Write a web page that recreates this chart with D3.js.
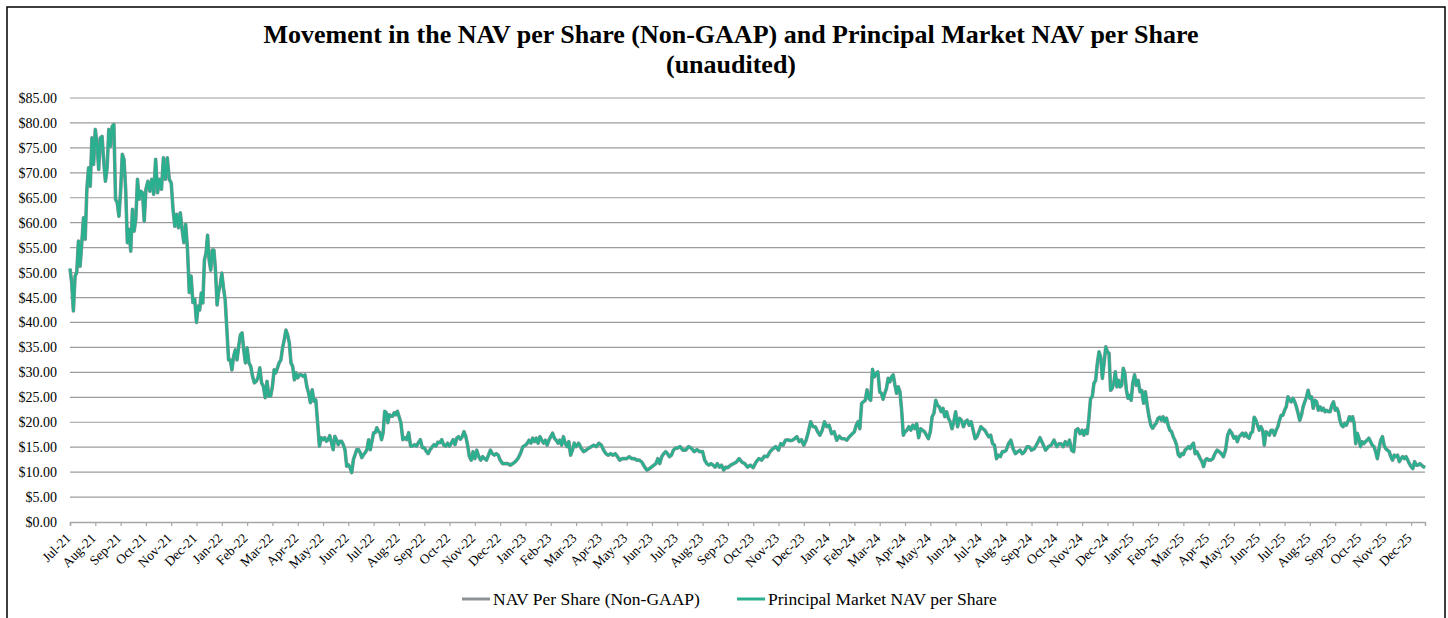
<!DOCTYPE html>
<html>
<head>
<meta charset="utf-8">
<script src="https://cdn.jsdelivr.net/npm/d3@7"></script>
<style>
  body { margin: 0; background: #fff; }
  svg text { font-family: "Liberation Serif", "Times New Roman", serif; fill: #000; }
</style>
</head>
<body>
<svg id="chart" width="1448" height="618"></svg>
<script>
// month labels on the x axis
const months = [
  "Jul-21","Aug-21","Sep-21","Oct-21","Nov-21","Dec-21",
  "Jan-22","Feb-22","Mar-22","Apr-22","May-22","Jun-22","Jul-22","Aug-22","Sep-22","Oct-22","Nov-22","Dec-22",
  "Jan-23","Feb-23","Mar-23","Apr-23","May-23","Jun-23","Jul-23","Aug-23","Sep-23","Oct-23","Nov-23","Dec-23",
  "Jan-24","Feb-24","Mar-24","Apr-24","May-24","Jun-24","Jul-24","Aug-24","Sep-24","Oct-24","Nov-24","Dec-24",
  "Jan-25","Feb-25","Mar-25","Apr-25","May-25","Jun-25","Jul-25","Aug-25","Sep-25","Oct-25","Nov-25","Dec-25"
];

const yTicks = [0, 5, 10, 15, 20, 25, 30, 35, 40, 45, 50, 55, 60, 65, 70, 75, 80, 85];

// the series stops in mid December 2025
const lastMonthCovered = 0.55;

// Principal Market NAV per share, readings spread through each month
const principalNav = [
  [50.8, 48, 42.3, 49.3, 50, 56.3, 51.3, 56, 61, 56.7, 66.7, 71, 67.3, 77, 71.7],
  [78.7, 76, 70.7, 77, 77.3, 72.3, 68.3, 71, 78.7, 75.3, 79.3, 79.7, 64.7, 64, 61.3],
  [66.3, 73.7, 72.7, 66.7, 56, 58.7, 54.3, 62.7, 58.3, 60.7, 68.7, 64.7, 66.3, 66, 60.3],
  [66.7, 68.3, 66.3, 68.7, 65.7, 72.7, 66, 68.7, 66.7, 73, 68.7, 73, 68.7],
  [68, 62.7, 59.3, 61.7, 59, 62, 58.7, 56, 59.7, 54.7, 46, 49.3, 44, 44.7],
  [40, 43.3, 42.5, 45.9, 43.9, 52.5, 53.9, 57.5, 52.5, 50.5, 54.5, 54.5, 50.5, 43.5, 46.2, 47.5],
  [49.9, 46.9, 44.5, 38.5, 32.5, 32.5, 30.5, 33.2, 34.5, 32.5, 35.2, 37.5, 37.9, 34.5, 31.9],
  [34.9, 31.9, 31.2, 29.2, 27.9, 28.2, 28.9, 30.9, 27.9, 27.2, 24.9, 28.2, 25.2, 25.2],
  [27.2, 30.5, 29.9, 30.9, 31.9, 32.5, 34.9, 36.5, 38.5, 37.5, 35.9, 31.9, 31.2, 28.5, 29.9],
  [28.9, 29.5, 29.5, 29.2, 29.5, 27.2, 25.9, 23.9, 26.5, 24.2, 24.5, 19.9, 15.2, 16.9],
  [16.5, 16.9, 16.2, 16.5, 17.3, 15.9, 14.5, 17.2, 16.5, 15.5, 16.2, 16.2, 15.5, 14.5, 11.2],
  [11.5, 10.9, 9.9, 12.5, 13.5, 14.5, 14.5, 13.9, 12.9, 13.5, 13.9, 14.5, 16.5, 14.5, 16.2],
  [17.9, 17.9, 18.9, 18.2, 17.9, 16.5, 17.9, 22.2, 21.9, 19.9, 21.5, 21.2, 21.2, 21.9, 21.5, 22.2],
  [21.2, 19.9, 16.5, 16.9, 16.5, 17.9, 15.2, 15.2, 15.5, 15.2, 15.9, 16.5, 14.9],
  [14.9, 14.2, 13.7, 14.5, 15.0, 15.5, 15.2, 16.0, 15.9, 16.5, 15.4, 15.2, 15.8],
  [15.2, 15.8, 16.5, 15.5, 16.8, 17.1, 16.6, 17.1, 18.1, 17.1, 15.4, 13.1, 12.4, 14.1],
  [12.7, 14.4, 13.1, 12.4, 13.1, 12.7, 12.4, 13.4, 14.4, 13.7, 13.4, 13.7, 13.4],
  [12.4, 11.7, 11.7, 11.7, 11.4, 11.7, 12.1, 12.7, 13.7, 15.1],
  [15.4, 15.8, 16.4, 15.8, 16.8, 16.1, 16.8, 15.8, 17.1, 16.4, 15.8, 16.4, 15.4, 16.4],
  [17.1, 17.8, 16.8, 16.4, 15.8, 16.4, 15.4, 17.1, 15.8, 15.1, 16.1, 13.4, 14.4, 15.8],
  [15.1, 15.8, 14.8, 14.1, 14.4, 14.8, 15.1, 15.4, 15.1, 15.8],
  [15.4, 14.4, 13.7, 13.4, 13.7, 13.4, 13.7, 13.1, 12.4, 12.7, 12.7],
  [12.7, 13.1, 12.7, 12.7, 12.4, 12.4, 12.0, 11.1, 10.4, 10.7],
  [11.1, 11.4, 11.7, 12.7, 11.7, 13.1, 13.7, 14.1, 13.7, 13.1, 13.4, 14.4, 14.8],
  [14.8, 15.1, 14.4, 14.4, 15.1, 14.8, 14.1, 14.5, 14.1],
  [14.1, 12.4, 11.7, 11.4, 11.7, 11.4, 11.0, 11.7, 11.0, 11.4, 10.4, 11.0],
  [10.9, 11.4, 11.7, 12.0, 12.7, 12.0, 11.7, 11.0, 11.4],
  [10.9, 12.0, 12.7, 12.4, 13.2, 13.1, 14.1, 14.7, 15.1],
  [14.4, 15.7, 15.4, 16.4, 16.5, 16.3, 16.4, 16.7, 17.1, 16.1, 16.5],
  [15.4, 16.4, 18.1, 20.1, 19.1, 19.1, 18.1, 17.4, 18.4, 20.1, 19.1],
  [19.4, 17.7, 18.1, 16.4, 17.2, 16.7, 16.7, 16.4, 17.1, 17.6],
  [18.1, 19.4, 20.1, 18.7, 23.8, 24.1, 24.4, 26.5, 24.8, 24.4, 30.6, 29.1, 29.8, 30.1],
  [26.1, 25.8, 24.6, 25.8, 26.8, 28.8, 28.1, 29.1, 29.5, 27.5, 25.8, 27.1, 26.1, 22.4, 17.4],
  [18.1, 18.4, 19.1, 18.4, 19.4, 18.7, 19.7, 16.9, 18.7, 18.4, 18.1, 17.4, 16.7],
  [18.1, 21.1, 21.8, 24.4, 23.4, 23.1, 22.1, 22.8, 21.1, 22.1, 20.8, 20.1, 18.7, 20.1],
  [22.1, 19.1, 20.8, 20.4, 19.1, 20.1, 20.4, 19.4, 20.1, 18.4, 16.7, 17.1, 18.1],
  [19.1, 18.7, 18.4, 17.7, 17.1, 17.4, 15.7, 15.4, 12.7, 13.4, 13.1, 14.1, 14.1],
  [14.4, 15.7, 16.4, 14.7, 13.7, 14.1, 14.4, 13.7, 14.1, 15.1, 15.1],
  [14.4, 14.7, 15.7, 16.9, 15.7, 14.4, 15.1, 15.4, 16.4],
  [15.1, 15.7, 15.7, 15.1, 16.1, 15.4, 16.4, 14.4, 14.1, 18.4, 18.7, 17.7],
  [18.4, 17.4, 18.4, 17.7, 20.8, 24.8, 25.1, 27.8, 28.4, 31.8, 34.1, 33.1, 28.8, 31.8, 35.1],
  [34.1, 33.8, 26.4, 26.8, 27.8, 30.1, 27.1, 28.4, 27.1, 27.4, 30.8, 29.8, 26.4, 24.8, 25.4, 24.4],
  [27.8, 29.5, 27.4, 28.4, 26.1, 26.4, 23.8, 26.1, 23.4, 21.1, 19.4, 18.8, 19.4, 19.8],
  [20.8, 21.0, 20.4, 21.1, 20.1, 20.8, 19.4, 18.4, 18.1, 17.1, 16.4, 15.4, 13.5, 13.1, 13.7],
  [13.5, 14.4, 14.7, 15.1, 14.7, 15.4, 15.8, 13.7, 14.1, 13.4, 12.7, 12.1, 11.1, 12.4, 12.7],
  [12.4, 12.4, 12.7, 13.7, 14.4, 14.1, 13.7, 13.1, 14.4, 17.4, 18.4, 17.8],
  [16.8, 17.1, 16.1, 17.1, 17.4, 17.8, 17.2, 17.8, 17.1, 16.8, 17.8, 18.1, 21.0, 20.4, 19.4],
  [18.4, 19.1, 18.4, 15.4, 18.1, 17.8, 17.4, 18.4, 18.4, 17.4, 18.4, 19.1, 20.4, 21.4, 21.4],
  [22.4, 23.1, 25.1, 24.4, 24.1, 24.8, 24.1, 23.1, 21.8, 20.4, 21.4, 23.1, 24.1, 25.1, 26.4],
  [24.8, 25.1, 22.8, 24.4, 24.1, 22.4, 23.1, 22.4, 22.8, 22.1, 22.4, 22.1, 22.1, 23.4, 24.1],
  [22.4, 22.8, 22.1, 20.4, 19.4, 19.1, 19.8, 19.4, 20.1, 21.1, 20.4, 21.1, 19.8, 15.7, 17.8, 16.8],
  [15.1, 16.1, 15.7, 16.1, 16.4, 16.8, 16.1, 15.4, 15.1, 14.1, 12.7, 14.7, 16.4, 17.1, 15.4],
  [14.7, 14.4, 14.1, 13.1, 12.4, 13.4, 13.1, 13.4, 12.1, 12.7, 13.1, 12.7, 13.1, 12.4, 11.7],
  [11.1, 10.7, 12.1, 11.4, 11.4, 11.7, 11.4, 11.1, 10.9]
];

// NAV per share (Non-GAAP) sits right under the principal market line in the picture
const navNonGaap = principalNav;

const seriesNames = ["NAV Per Share (Non-GAAP)", "Principal Market NAV per Share"];
const seriesColors = ["#8e9296", "#2ab08f"];

const svg = d3.select("#chart");
const plotLeft = 70, plotRight = 1425, plotTop = 98, plotBottom = 522;

// frame round the chart
svg.append("rect")
  .attr("x", 7).attr("y", 7)
  .attr("width", 1438).attr("height", 640)
  .attr("fill", "none").attr("stroke", "#000").attr("stroke-width", 1.5);

// title
const title = svg.append("text")
  .attr("text-anchor", "middle")
  .style("font-size", "26px").style("font-weight", "bold");
title.append("tspan").attr("x", 731).attr("y", 43)
  .text("Movement in the NAV per Share (Non-GAAP) and Principal Market NAV per Share");
title.append("tspan").attr("x", 731).attr("y", 73).text("(unaudited)");

const x = d3.scaleLinear()
  .domain([0, months.length - 1 + lastMonthCovered])
  .range([plotLeft, plotRight]);
const y = d3.scaleLinear().domain([0, 85]).range([plotBottom, plotTop]);

// gridlines
svg.append("g").selectAll("line")
  .data(yTicks.filter(d => d > 0))
  .join("line")
  .attr("x1", plotLeft).attr("x2", plotRight)
  .attr("y1", d => y(d)).attr("y2", d => y(d))
  .attr("stroke", "#9c9c9c").attr("stroke-width", 1.2);

// y axis labels
const yAxis = svg.append("g")
  .attr("transform", `translate(${plotLeft},0)`)
  .call(d3.axisLeft(y).tickValues(yTicks).tickSize(0).tickPadding(13)
    .tickFormat(d => "$" + d.toFixed(2)));
yAxis.select(".domain").remove();
yAxis.selectAll("text").style("font-size", "14px")
  .style("font-family", '"Liberation Serif", serif');

// x axis
const xAxis = svg.append("g")
  .attr("transform", `translate(0,${plotBottom})`)
  .call(d3.axisBottom(x).tickValues(d3.range(months.length)).tickSize(4)
    .tickFormat(i => months[i]));
xAxis.select(".domain").attr("stroke", "#a6a6a6").attr("stroke-width", 1.5);
xAxis.selectAll(".tick line").attr("stroke", "#a6a6a6").attr("stroke-width", 1.2);
xAxis.selectAll("text")
  .style("font-size", "13.5px")
  .style("font-family", '"Liberation Serif", serif')
  .attr("text-anchor", "end")
  .attr("dx", "0")
  .attr("dy", "0")
  .attr("y", 0)
  .attr("transform", "translate(1,17) rotate(-45)");

function toPoints(series) {
  const pts = [];
  series.forEach((vals, m) => {
    const isLast = m === series.length - 1;
    vals.forEach((v, j) => {
      const frac = isLast ? (j / (vals.length - 1)) * lastMonthCovered : j / vals.length;
      pts.push({ t: m + frac, v: v });
    });
  });
  return pts;
}

const line = d3.line().x(d => x(d.t)).y(d => y(d.v));

svg.append("path")
  .datum(toPoints(navNonGaap))
  .attr("d", line)
  .attr("fill", "none")
  .attr("stroke", seriesColors[0])
  .attr("stroke-width", 3.6)
  .attr("stroke-linejoin", "round");

svg.append("path")
  .datum(toPoints(principalNav))
  .attr("d", line)
  .attr("fill", "none")
  .attr("stroke", seriesColors[1])
  .attr("stroke-width", 2.6)
  .attr("stroke-linejoin", "round");

// legend
const legendX = [462, 737];
const legend = svg.append("g").selectAll("g")
  .data(seriesNames)
  .join("g")
  .attr("transform", (d, i) => `translate(${legendX[i]},599)`);
legend.append("line")
  .attr("x1", 0).attr("x2", 28)
  .attr("stroke", (d, i) => seriesColors[i])
  .attr("stroke-width", 3);
legend.append("text")
  .attr("x", 31).attr("y", 6)
  .style("font-size", "17.5px")
  .text(d => d);
</script>
</body>
</html>
